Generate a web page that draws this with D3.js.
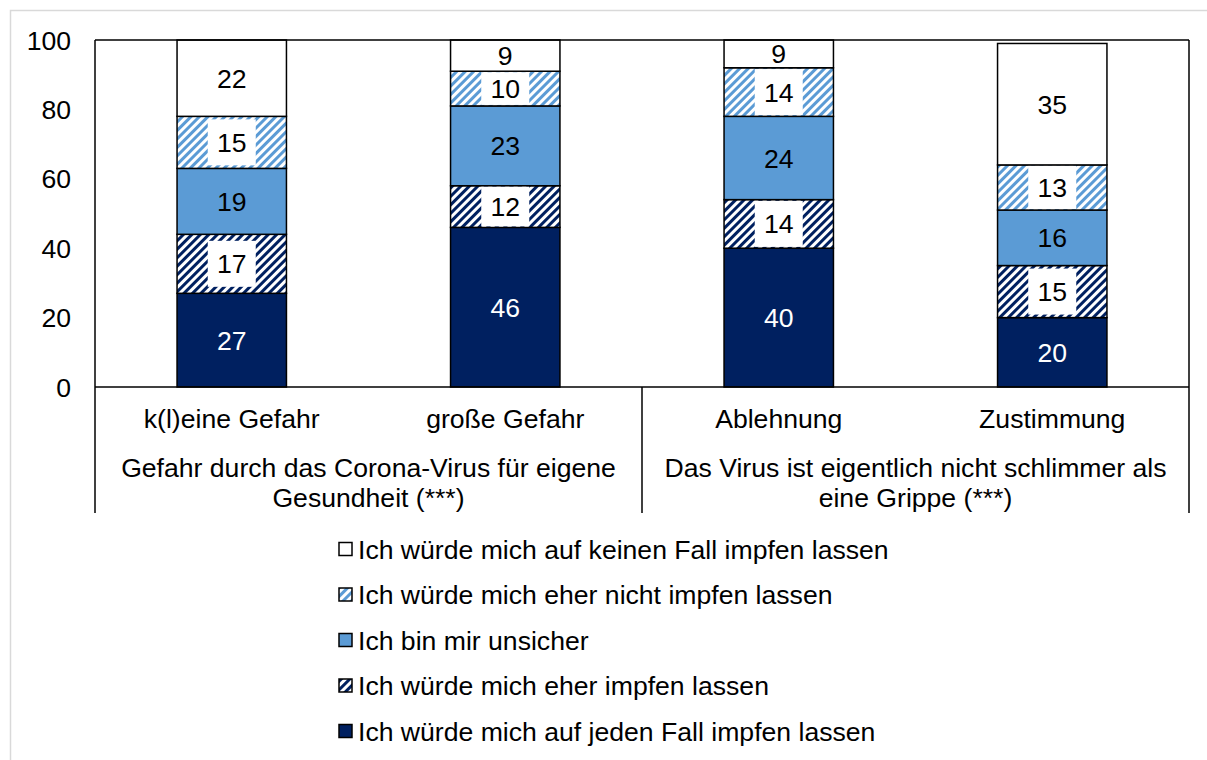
<!DOCTYPE html>
<html>
<head>
<meta charset="utf-8">
<script src="https://cdn.jsdelivr.net/npm/d3@7"></script>
<style>
  body { margin: 0; background: #fff; }
  text { font-family: "Liberation Sans", Arial, sans-serif; fill: #000; }
</style>
</head>
<body>
<div id="main"></div>
<script>
var width = 1207;
var height = 760;

var categories = ["k(l)eine Gefahr", "große Gefahr", "Ablehnung", "Zustimmung"];
var groups = [
  ["Gefahr durch das Corona-Virus für eigene", "Gesundheit (***)"],
  ["Das Virus ist eigentlich nicht schlimmer als", "eine Grippe (***)"]
];
var seriesNames = [
  "Ich würde mich auf jeden Fall impfen lassen",
  "Ich würde mich eher impfen lassen",
  "Ich bin mir unsicher",
  "Ich würde mich eher nicht impfen lassen",
  "Ich würde mich auf keinen Fall impfen lassen"
];
var jedenFall = [27, 46, 40, 20];
var eherJa = [17, 12, 14, 15];
var unsicher = [19, 23, 24, 16];
var eherNicht = [15, 10, 14, 13];
var keinenFall = [22, 9, 9, 35];
var yTicks = [0, 20, 40, 60, 80, 100];

var navy = "#002060";
var blue = "#5b9bd5";
var fontSize = "26.6px";

var seriesValues = [jedenFall, eherJa, unsicher, eherNicht, keinenFall];

var plotLeft = 95, plotRight = 1189, plotTop = 40, plotBottom = 387, frameBottom = 513;

var x = d3.scaleBand().domain(categories).range([plotLeft, plotRight]).paddingInner(0.6).paddingOuter(0.3);
var y = d3.scaleLinear().domain([0, 100]).range([plotBottom, plotTop]);

var svg = d3.select("#main").append("svg")
    .attr("width", width)
    .attr("height", height);

var defs = svg.append("defs");
function hatch(id, color) {
  var p = defs.append("pattern")
      .attr("id", id)
      .attr("patternUnits", "userSpaceOnUse")
      .attr("width", 6).attr("height", 6)
      .attr("patternTransform", "rotate(45)");
  p.append("rect").attr("width", 6).attr("height", 6).attr("fill", "#fff");
  p.append("rect").attr("width", 3).attr("height", 6).attr("fill", color);
}
hatch("hatchDark", navy);
hatch("hatchLight", blue);
var fills = [navy, "url(#hatchDark)", blue, "url(#hatchLight)", "#fff"];

// outer frame
svg.append("rect")
    .attr("x", 10.5).attr("y", 10.5)
    .attr("width", 1300).attr("height", 900)
    .attr("fill", "none").attr("stroke", "#d9d9d9").attr("stroke-width", 1.5);

// stacked data
var rows = categories.map(function(c, i) {
  var o = { cat: c };
  seriesNames.forEach(function(s, k) { o[s] = seriesValues[k][i]; });
  return o;
});
var stacked = d3.stack().keys(seriesNames)(rows);

var g = svg.append("g");
stacked.forEach(function(layer, k) {
  g.selectAll(".seg" + k)
    .data(layer)
    .enter().append("rect")
    .attr("x", d => x(d.data.cat))
    .attr("y", d => y(Math.min(d[1], 100)))
    .attr("width", x.bandwidth())
    .attr("height", d => y(Math.min(d[0], 100)) - y(Math.min(d[1], 100)))
    .attr("fill", fills[k])
    .attr("stroke", "#000")
    .attr("stroke-width", 1.5);
});

// labels
stacked.forEach(function(layer, k) {
  layer.forEach(function(d) {
    var y0 = y(Math.min(d[0], 100)), y1 = y(Math.min(d[1], 100));
    var cy = (y0 + y1) / 2;
    var cx = x(d.data.cat) + x.bandwidth() / 2;
    var v = d[1] - d[0];
    if (k === 1 || k === 3) {
      var h = Math.min(46, y0 - y1 - 2);
      g.append("rect")
        .attr("x", cx - 24).attr("y", cy - h / 2)
        .attr("width", 48).attr("height", h)
        .attr("fill", "#fff");
    }
    g.append("text")
      .attr("x", cx).attr("y", cy)
      .attr("dy", "0.36em")
      .attr("text-anchor", "middle")
      .style("font-size", fontSize)
      .style("fill", k === 0 ? "#fff" : "#000")
      .text(v);
  });
});

// frame lines
var lines = svg.append("g").attr("stroke", "#000").attr("stroke-width", 1.5);
lines.append("line").attr("x1", plotLeft).attr("x2", plotRight).attr("y1", plotTop).attr("y2", plotTop);
lines.append("line").attr("x1", plotLeft).attr("x2", plotRight).attr("y1", plotBottom).attr("y2", plotBottom);
lines.append("line").attr("x1", plotLeft).attr("x2", plotLeft).attr("y1", plotTop).attr("y2", frameBottom);
lines.append("line").attr("x1", plotRight).attr("x2", plotRight).attr("y1", plotTop).attr("y2", frameBottom);
var mid = (x(categories[1]) + x.bandwidth() + x(categories[2])) / 2;
lines.append("line").attr("x1", mid).attr("x2", mid).attr("y1", plotBottom).attr("y2", frameBottom);

// y axis labels
svg.selectAll(".ytick").data(yTicks).enter().append("text")
    .attr("x", 71).attr("y", d => y(d))
    .attr("dy", "0.36em")
    .attr("text-anchor", "end")
    .style("font-size", fontSize)
    .text(d => d);

// category labels
svg.selectAll(".cat").data(categories).enter().append("text")
    .attr("x", d => x(d) + x.bandwidth() / 2)
    .attr("y", 418).attr("dy", "0.36em")
    .attr("text-anchor", "middle")
    .style("font-size", fontSize)
    .text(d => d);

// group labels
var groupCenters = [(plotLeft + mid) / 2, (mid + plotRight) / 2];
groups.forEach(function(lns, i) {
  lns.forEach(function(t, j) {
    svg.append("text")
      .attr("x", groupCenters[i]).attr("y", 467 + j * 30).attr("dy", "0.36em")
      .attr("text-anchor", "middle")
      .style("font-size", fontSize)
      .text(t);
  });
});

// legend, top to bottom
var legendOrder = [4, 3, 2, 1, 0];
var leg = svg.append("g");
legendOrder.forEach(function(k, i) {
  var ly = 549 + i * 45.5;
  leg.append("rect")
    .attr("x", 339).attr("y", ly - 6.5)
    .attr("width", 13).attr("height", 13)
    .attr("fill", fills[k]).attr("stroke", "#000").attr("stroke-width", 1.5);
  leg.append("text")
    .attr("x", 358).attr("y", ly).attr("dy", "0.36em")
    .style("font-size", fontSize)
    .text(seriesNames[k]);
});
</script>
</body>
</html>
